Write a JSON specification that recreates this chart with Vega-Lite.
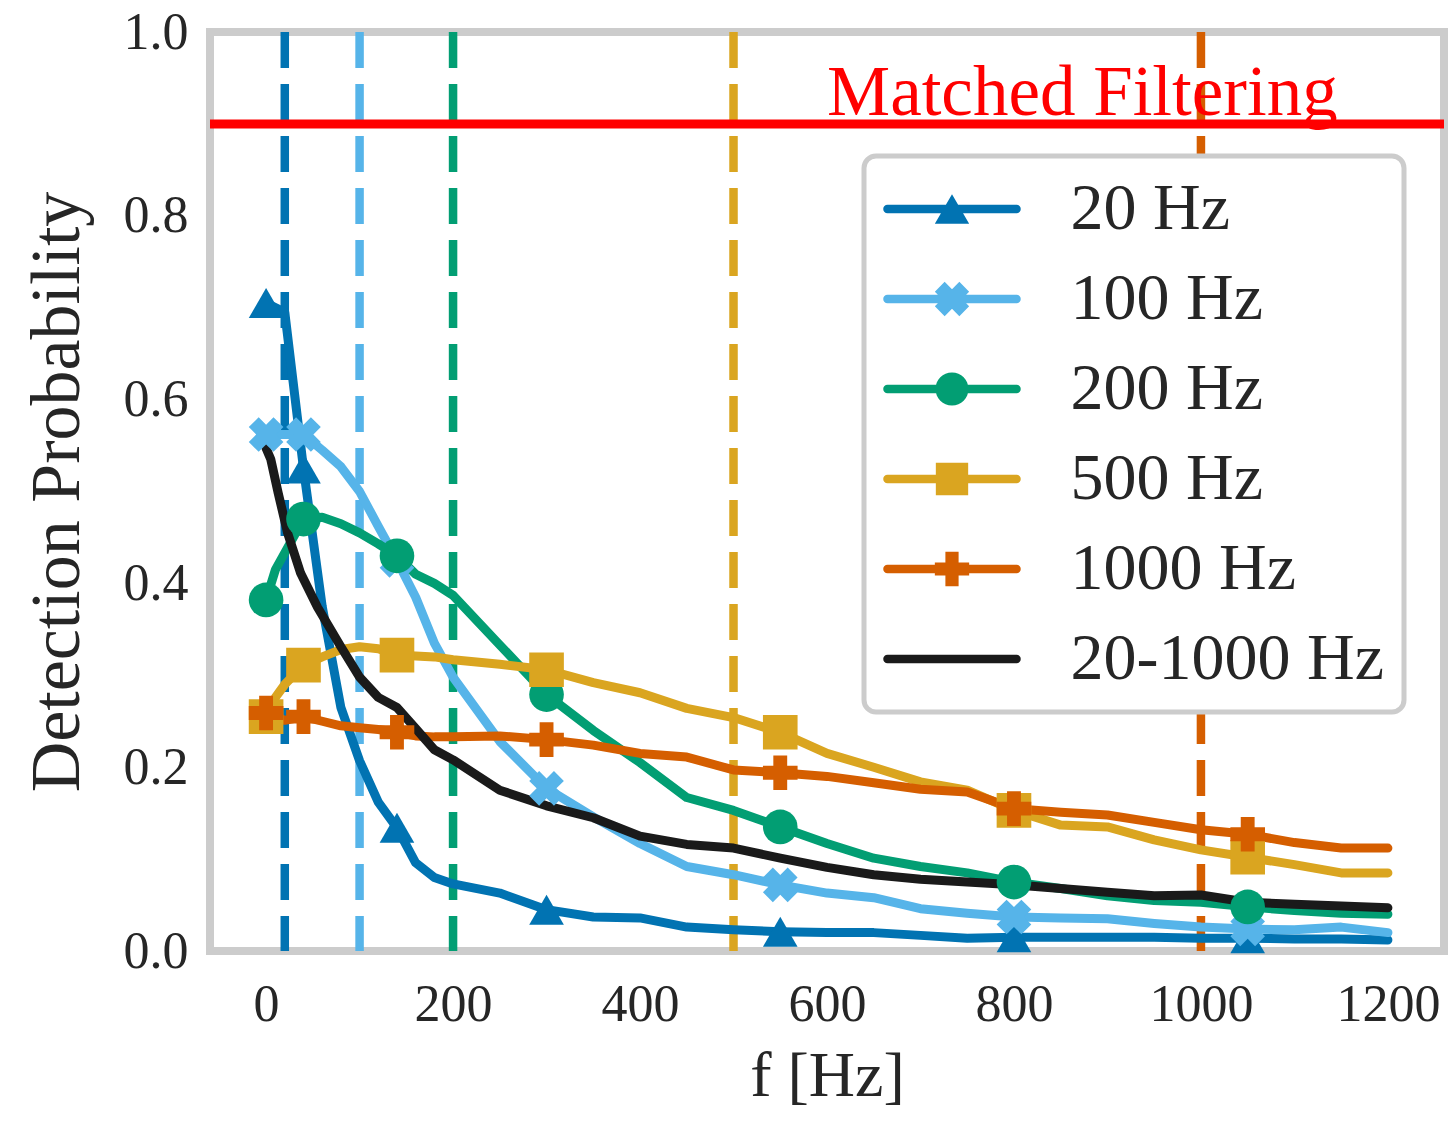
{
  "$schema": "https://vega.github.io/schema/vega-lite/v6.json",
  "width": 1234,
  "height": 919,
  "autosize": {"type": "none"},
  "padding": {"left": 210, "top": 32, "right": 6, "bottom": 171},
  "background": "white",
  "config": {
    "view": {"stroke": "#cccccc", "strokeWidth": 8, "fill": "white"},
    "font": "Liberation Serif",
    "axis": {
      "grid": false, "domain": false, "ticks": false,
      "labelFont": "Liberation Serif", "labelFontSize": 52, "labelColor": "#262626",
      "titleFont": "Liberation Serif", "titleColor": "#262626", "titleFontWeight": "normal",
      "labelOverlap": false
    }
  },
  "datasets": {
    "cutoffs": [
      {"series": "20 Hz", "f": 20},
      {"series": "100 Hz", "f": 100},
      {"series": "200 Hz", "f": 200},
      {"series": "500 Hz", "f": 500},
      {"series": "1000 Hz", "f": 1000}
    ],
    "curves": [
      {"series": "20 Hz", "f": 0, "p": 0.705}, {"series": "20 Hz", "f": 20, "p": 0.695}, {"series": "20 Hz", "f": 40, "p": 0.525}, {"series": "20 Hz", "f": 60, "p": 0.375}, {"series": "20 Hz", "f": 80, "p": 0.265}, {"series": "20 Hz", "f": 100, "p": 0.207}, {"series": "20 Hz", "f": 120, "p": 0.162}, {"series": "20 Hz", "f": 140, "p": 0.134}, {"series": "20 Hz", "f": 160, "p": 0.096}, {"series": "20 Hz", "f": 180, "p": 0.08}, {"series": "20 Hz", "f": 200, "p": 0.073}, {"series": "20 Hz", "f": 250, "p": 0.063}, {"series": "20 Hz", "f": 300, "p": 0.045}, {"series": "20 Hz", "f": 350, "p": 0.037}, {"series": "20 Hz", "f": 400, "p": 0.036}, {"series": "20 Hz", "f": 450, "p": 0.026}, {"series": "20 Hz", "f": 500, "p": 0.023}, {"series": "20 Hz", "f": 550, "p": 0.021}, {"series": "20 Hz", "f": 600, "p": 0.02}, {"series": "20 Hz", "f": 650, "p": 0.02}, {"series": "20 Hz", "f": 700, "p": 0.017}, {"series": "20 Hz", "f": 750, "p": 0.014}, {"series": "20 Hz", "f": 800, "p": 0.015}, {"series": "20 Hz", "f": 850, "p": 0.015}, {"series": "20 Hz", "f": 900, "p": 0.015}, {"series": "20 Hz", "f": 950, "p": 0.015}, {"series": "20 Hz", "f": 1000, "p": 0.014}, {"series": "20 Hz", "f": 1050, "p": 0.014}, {"series": "20 Hz", "f": 1100, "p": 0.013}, {"series": "20 Hz", "f": 1150, "p": 0.013}, {"series": "20 Hz", "f": 1200, "p": 0.012},

      {"series": "100 Hz", "f": 0, "p": 0.562}, {"series": "100 Hz", "f": 20, "p": 0.562}, {"series": "100 Hz", "f": 40, "p": 0.562}, {"series": "100 Hz", "f": 60, "p": 0.545}, {"series": "100 Hz", "f": 80, "p": 0.527}, {"series": "100 Hz", "f": 100, "p": 0.5}, {"series": "100 Hz", "f": 120, "p": 0.462}, {"series": "100 Hz", "f": 140, "p": 0.425}, {"series": "100 Hz", "f": 160, "p": 0.385}, {"series": "100 Hz", "f": 180, "p": 0.335}, {"series": "100 Hz", "f": 200, "p": 0.298}, {"series": "100 Hz", "f": 250, "p": 0.228}, {"series": "100 Hz", "f": 300, "p": 0.177}, {"series": "100 Hz", "f": 350, "p": 0.146}, {"series": "100 Hz", "f": 400, "p": 0.117}, {"series": "100 Hz", "f": 450, "p": 0.092}, {"series": "100 Hz", "f": 500, "p": 0.083}, {"series": "100 Hz", "f": 550, "p": 0.072}, {"series": "100 Hz", "f": 600, "p": 0.063}, {"series": "100 Hz", "f": 650, "p": 0.058}, {"series": "100 Hz", "f": 700, "p": 0.046}, {"series": "100 Hz", "f": 750, "p": 0.041}, {"series": "100 Hz", "f": 800, "p": 0.037}, {"series": "100 Hz", "f": 850, "p": 0.036}, {"series": "100 Hz", "f": 900, "p": 0.035}, {"series": "100 Hz", "f": 950, "p": 0.03}, {"series": "100 Hz", "f": 1000, "p": 0.026}, {"series": "100 Hz", "f": 1050, "p": 0.024}, {"series": "100 Hz", "f": 1100, "p": 0.023}, {"series": "100 Hz", "f": 1150, "p": 0.026}, {"series": "100 Hz", "f": 1200, "p": 0.02},

      {"series": "200 Hz", "f": 0, "p": 0.382}, {"series": "200 Hz", "f": 10, "p": 0.415}, {"series": "200 Hz", "f": 40, "p": 0.47}, {"series": "200 Hz", "f": 60, "p": 0.472}, {"series": "200 Hz", "f": 80, "p": 0.465}, {"series": "200 Hz", "f": 100, "p": 0.455}, {"series": "200 Hz", "f": 120, "p": 0.443}, {"series": "200 Hz", "f": 140, "p": 0.43}, {"series": "200 Hz", "f": 160, "p": 0.41}, {"series": "200 Hz", "f": 180, "p": 0.4}, {"series": "200 Hz", "f": 200, "p": 0.387}, {"series": "200 Hz", "f": 250, "p": 0.333}, {"series": "200 Hz", "f": 300, "p": 0.279}, {"series": "200 Hz", "f": 350, "p": 0.24}, {"series": "200 Hz", "f": 400, "p": 0.205}, {"series": "200 Hz", "f": 450, "p": 0.167}, {"series": "200 Hz", "f": 500, "p": 0.153}, {"series": "200 Hz", "f": 550, "p": 0.135}, {"series": "200 Hz", "f": 600, "p": 0.117}, {"series": "200 Hz", "f": 650, "p": 0.101}, {"series": "200 Hz", "f": 700, "p": 0.092}, {"series": "200 Hz", "f": 750, "p": 0.085}, {"series": "200 Hz", "f": 800, "p": 0.075}, {"series": "200 Hz", "f": 850, "p": 0.068}, {"series": "200 Hz", "f": 900, "p": 0.06}, {"series": "200 Hz", "f": 950, "p": 0.055}, {"series": "200 Hz", "f": 1000, "p": 0.053}, {"series": "200 Hz", "f": 1050, "p": 0.048}, {"series": "200 Hz", "f": 1100, "p": 0.044}, {"series": "200 Hz", "f": 1150, "p": 0.041}, {"series": "200 Hz", "f": 1200, "p": 0.04},

      {"series": "500 Hz", "f": 0, "p": 0.255}, {"series": "500 Hz", "f": 10, "p": 0.276}, {"series": "500 Hz", "f": 20, "p": 0.29}, {"series": "500 Hz", "f": 40, "p": 0.311}, {"series": "500 Hz", "f": 60, "p": 0.32}, {"series": "500 Hz", "f": 80, "p": 0.328}, {"series": "500 Hz", "f": 100, "p": 0.331}, {"series": "500 Hz", "f": 120, "p": 0.329}, {"series": "500 Hz", "f": 140, "p": 0.322}, {"series": "500 Hz", "f": 160, "p": 0.321}, {"series": "500 Hz", "f": 180, "p": 0.32}, {"series": "500 Hz", "f": 200, "p": 0.317}, {"series": "500 Hz", "f": 250, "p": 0.312}, {"series": "500 Hz", "f": 300, "p": 0.306}, {"series": "500 Hz", "f": 350, "p": 0.292}, {"series": "500 Hz", "f": 400, "p": 0.281}, {"series": "500 Hz", "f": 450, "p": 0.264}, {"series": "500 Hz", "f": 500, "p": 0.254}, {"series": "500 Hz", "f": 550, "p": 0.238}, {"series": "500 Hz", "f": 600, "p": 0.215}, {"series": "500 Hz", "f": 650, "p": 0.2}, {"series": "500 Hz", "f": 700, "p": 0.184}, {"series": "500 Hz", "f": 750, "p": 0.175}, {"series": "500 Hz", "f": 800, "p": 0.153}, {"series": "500 Hz", "f": 850, "p": 0.137}, {"series": "500 Hz", "f": 900, "p": 0.135}, {"series": "500 Hz", "f": 950, "p": 0.121}, {"series": "500 Hz", "f": 1000, "p": 0.11}, {"series": "500 Hz", "f": 1050, "p": 0.102}, {"series": "500 Hz", "f": 1100, "p": 0.094}, {"series": "500 Hz", "f": 1150, "p": 0.085}, {"series": "500 Hz", "f": 1200, "p": 0.085},

      {"series": "1000 Hz", "f": 0, "p": 0.259}, {"series": "1000 Hz", "f": 20, "p": 0.251}, {"series": "1000 Hz", "f": 40, "p": 0.255}, {"series": "1000 Hz", "f": 60, "p": 0.25}, {"series": "1000 Hz", "f": 80, "p": 0.245}, {"series": "1000 Hz", "f": 100, "p": 0.243}, {"series": "1000 Hz", "f": 120, "p": 0.241}, {"series": "1000 Hz", "f": 140, "p": 0.238}, {"series": "1000 Hz", "f": 160, "p": 0.234}, {"series": "1000 Hz", "f": 180, "p": 0.233}, {"series": "1000 Hz", "f": 200, "p": 0.233}, {"series": "1000 Hz", "f": 250, "p": 0.234}, {"series": "1000 Hz", "f": 300, "p": 0.23}, {"series": "1000 Hz", "f": 350, "p": 0.224}, {"series": "1000 Hz", "f": 400, "p": 0.215}, {"series": "1000 Hz", "f": 450, "p": 0.211}, {"series": "1000 Hz", "f": 500, "p": 0.197}, {"series": "1000 Hz", "f": 550, "p": 0.194}, {"series": "1000 Hz", "f": 600, "p": 0.19}, {"series": "1000 Hz", "f": 650, "p": 0.183}, {"series": "1000 Hz", "f": 700, "p": 0.176}, {"series": "1000 Hz", "f": 750, "p": 0.173}, {"series": "1000 Hz", "f": 800, "p": 0.155}, {"series": "1000 Hz", "f": 850, "p": 0.151}, {"series": "1000 Hz", "f": 900, "p": 0.148}, {"series": "1000 Hz", "f": 950, "p": 0.14}, {"series": "1000 Hz", "f": 1000, "p": 0.132}, {"series": "1000 Hz", "f": 1050, "p": 0.127}, {"series": "1000 Hz", "f": 1100, "p": 0.118}, {"series": "1000 Hz", "f": 1150, "p": 0.112}, {"series": "1000 Hz", "f": 1200, "p": 0.112},

      {"series": "20-1000 Hz", "f": 0, "p": 0.547}, {"series": "20-1000 Hz", "f": 5, "p": 0.535}, {"series": "20-1000 Hz", "f": 13, "p": 0.498}, {"series": "20-1000 Hz", "f": 23, "p": 0.455}, {"series": "20-1000 Hz", "f": 37, "p": 0.411}, {"series": "20-1000 Hz", "f": 55, "p": 0.374}, {"series": "20-1000 Hz", "f": 80, "p": 0.331}, {"series": "20-1000 Hz", "f": 100, "p": 0.298}, {"series": "20-1000 Hz", "f": 120, "p": 0.276}, {"series": "20-1000 Hz", "f": 140, "p": 0.265}, {"series": "20-1000 Hz", "f": 160, "p": 0.242}, {"series": "20-1000 Hz", "f": 180, "p": 0.219}, {"series": "20-1000 Hz", "f": 200, "p": 0.208}, {"series": "20-1000 Hz", "f": 250, "p": 0.175}, {"series": "20-1000 Hz", "f": 300, "p": 0.158}, {"series": "20-1000 Hz", "f": 350, "p": 0.145}, {"series": "20-1000 Hz", "f": 400, "p": 0.125}, {"series": "20-1000 Hz", "f": 450, "p": 0.116}, {"series": "20-1000 Hz", "f": 500, "p": 0.112}, {"series": "20-1000 Hz", "f": 550, "p": 0.101}, {"series": "20-1000 Hz", "f": 600, "p": 0.091}, {"series": "20-1000 Hz", "f": 650, "p": 0.083}, {"series": "20-1000 Hz", "f": 700, "p": 0.078}, {"series": "20-1000 Hz", "f": 750, "p": 0.075}, {"series": "20-1000 Hz", "f": 800, "p": 0.072}, {"series": "20-1000 Hz", "f": 850, "p": 0.068}, {"series": "20-1000 Hz", "f": 900, "p": 0.064}, {"series": "20-1000 Hz", "f": 950, "p": 0.06}, {"series": "20-1000 Hz", "f": 1000, "p": 0.061}, {"series": "20-1000 Hz", "f": 1050, "p": 0.053}, {"series": "20-1000 Hz", "f": 1100, "p": 0.051}, {"series": "20-1000 Hz", "f": 1150, "p": 0.049}, {"series": "20-1000 Hz", "f": 1200, "p": 0.047}
    ],
    "reference": [{"p": 0.9}],
    "annotation": [{"f": 600, "p": 0.91, "label": "Matched Filtering"}]
  },
  "encoding": {
    "x": {
      "field": "f", "type": "quantitative",
      "scale": {"domain": [-60, 1260], "nice": false, "zero": false},
      "axis": {"values": [0, 200, 400, 600, 800, 1000, 1200], "format": "d", "title": "f [Hz]", "titleFontSize": 64, "labelPadding": 28, "titlePadding": 14, "labelFlush": false}
    },
    "y": {
      "field": "p", "type": "quantitative",
      "scale": {"domain": [0, 1], "nice": false},
      "axis": {"values": [0, 0.2, 0.4, 0.6, 0.8, 1.0], "format": ".1f", "title": "Detection Probability", "titleFontSize": 70, "labelPadding": 22, "titlePadding": 30}
    }
  },
  "layer": [
    {
      "data": {"name": "cutoffs"},
      "mark": {"type": "rule", "strokeDash": [36, 16], "strokeWidth": 8.5},
      "encoding": {
        "y": null,
        "color": {
          "field": "series", "type": "nominal",
          "scale": {"domain": ["20 Hz", "100 Hz", "200 Hz", "500 Hz", "1000 Hz", "20-1000 Hz"], "range": ["#0173B2", "#56B4E9", "#029E73", "#DAA520", "#D55E00", "#1a1a1a"]},
          "legend": {
            "orient": "none", "legendX": 654, "legendY": 124, "title": null,
            "padding": 20, "fillColor": "white", "strokeColor": "#cccccc", "cornerRadius": 12,
            "symbolSize": 4356, "symbolStrokeWidth": 0, "symbolOffset": 35, "labelOffset": 85.5,
            "labelFontSize": 66, "labelFont": "Liberation Serif", "labelColor": "#262626", "labelLimit": 1000, "rowPadding": 24,
            "encode": {
              "legend": {"update": {"strokeWidth": {"value": 5}}},
              "symbols": {"update": {
                "shape": {"signal": "datum.value === '20 Hz' ? 'M-1.955,-0.129L1.955,-0.129A0.129,0.129,0,0,1,1.955,0.129L-1.955,0.129A0.129,0.129,0,0,1,-1.955,-0.129ZM0,-0.45L0.52,0.45L-0.52,0.45Z' : datum.value === '100 Hz' ? 'M-1.955,-0.129L1.955,-0.129A0.129,0.129,0,0,1,1.955,0.129L-1.955,0.129A0.129,0.129,0,0,1,-1.955,-0.129ZM-0.223,0.52L-0.52,0.223L-0.297,0L-0.52,-0.223L-0.223,-0.52L0,-0.297L0.223,-0.52L0.52,-0.223L0.297,0L0.52,0.223L0.223,0.52L0,0.297Z' : datum.value === '200 Hz' ? 'M-1.955,-0.129L1.955,-0.129A0.129,0.129,0,0,1,1.955,0.129L-1.955,0.129A0.129,0.129,0,0,1,-1.955,-0.129ZM0.5,0A0.5,0.5,0,1,1,-0.5,0A0.5,0.5,0,1,1,0.5,0Z' : datum.value === '500 Hz' ? 'M-1.955,-0.129L1.955,-0.129A0.129,0.129,0,0,1,1.955,0.129L-1.955,0.129A0.129,0.129,0,0,1,-1.955,-0.129ZM-0.49,-0.49L0.49,-0.49L0.49,0.49L-0.49,0.49Z' : datum.value === '1000 Hz' ? 'M-1.955,-0.129L1.955,-0.129A0.129,0.129,0,0,1,1.955,0.129L-1.955,0.129A0.129,0.129,0,0,1,-1.955,-0.129ZM-0.2,-0.52L0.2,-0.52L0.2,-0.2L0.52,-0.2L0.52,0.2L0.2,0.2L0.2,0.52L-0.2,0.52L-0.2,0.2L-0.52,0.2L-0.52,-0.2L-0.2,-0.2Z' : 'M-1.955,-0.129L1.955,-0.129A0.129,0.129,0,0,1,1.955,0.129L-1.955,0.129A0.129,0.129,0,0,1,-1.955,-0.129Z'"},
                "fill": {"scale": "color", "field": "value"},
                "stroke": {"value": "transparent"},
                "strokeWidth": {"value": 0},
                "opacity": {"value": 1}
              }}
            }
          }
        }
      }
    },
    {
      "data": {"name": "annotation"},
      "mark": {"type": "text", "align": "left", "baseline": "alphabetic", "fontSize": 71, "font": "Liberation Serif", "color": "#ff0000"},
      "encoding": {"text": {"field": "label"}}
    },
    {
      "data": {"name": "reference"},
      "mark": {"type": "rule", "color": "#ff0000", "strokeWidth": 9},
      "encoding": {"x": null}
    },
    {
      "data": {"name": "curves"},
      "mark": {"type": "line", "strokeWidth": 9, "strokeCap": "round", "strokeJoin": "round"},
      "encoding": {
        "color": {
          "field": "series", "type": "nominal",
          "legend": {
            "orient": "none", "legendX": 654, "legendY": 124, "title": null,
            "padding": 20, "fillColor": "white", "strokeColor": "#cccccc", "cornerRadius": 12,
            "symbolSize": 4356, "symbolStrokeWidth": 0, "symbolOffset": 35, "labelOffset": 85.5,
            "labelFontSize": 66, "labelFont": "Liberation Serif", "labelColor": "#262626", "labelLimit": 1000, "rowPadding": 24
          }
        }
      }
    },
    {
      "data": {"name": "curves"},
      "transform": [
        {"filter": {"field": "f", "oneOf": [0, 40, 140, 300, 550, 800, 1050]}},
        {"filter": {"not": {"field": "series", "equal": "20-1000 Hz"}}}
      ],
      "mark": {"type": "point", "filled": true, "size": 1200, "opacity": 1, "strokeWidth": 0},
      "encoding": {
        "color": {"field": "series", "type": "nominal"},
        "shape": {
          "field": "series", "type": "nominal", "legend": null,
          "scale": {"domain": ["20 Hz", "100 Hz", "200 Hz", "500 Hz", "1000 Hz"], "range": ["triangle-up", "M-0.428,1L-1,0.428L-0.571,0L-1,-0.428L-0.428,-1L0,-0.571L0.428,-1L1,-0.428L0.571,0L1,0.428L0.428,1L0,0.571Z", "circle", "square", "cross"]}
        }
      }
    }
  ]
}
